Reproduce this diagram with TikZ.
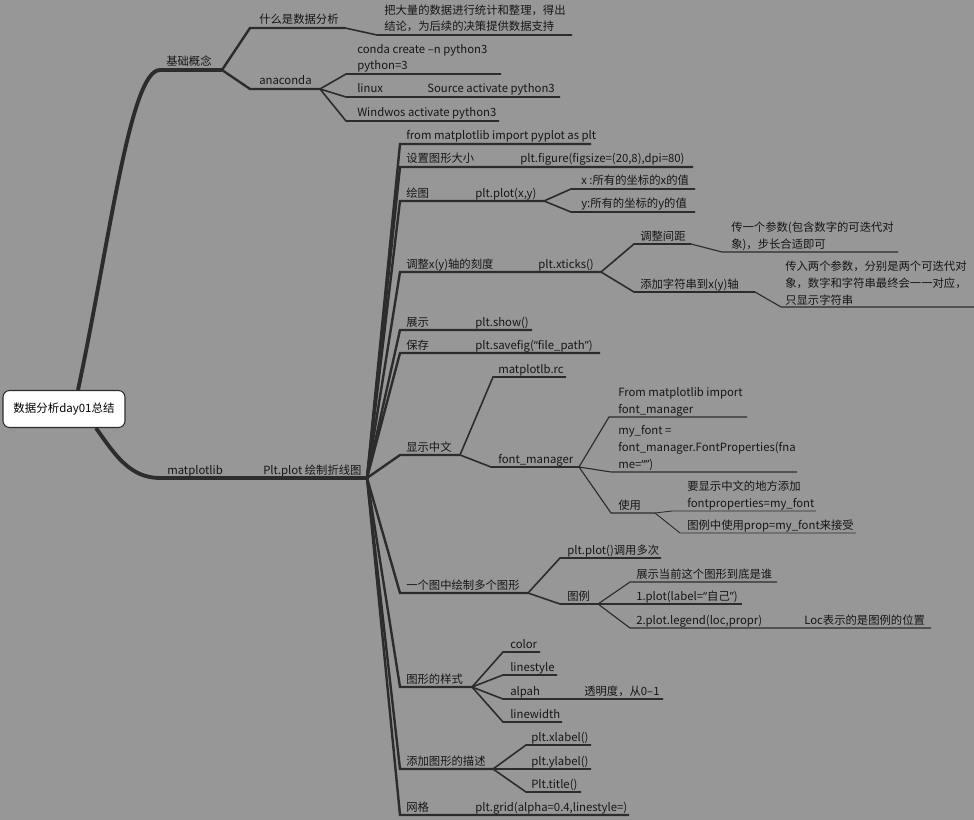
\documentclass[tikz,border=0pt]{standalone}
\usepackage{fontspec}
\setmainfont{Noto Sans CJK SC}
\newfontfamily\quotefont{Noto Sans}
\newcommand{\oq}{{\quotefont “}}
\newcommand{\cq}{{\quotefont ”}}
\usetikzlibrary{calc,positioning}
\definecolor{bggray}{RGB}{151,151,151}
\definecolor{linegray}{RGB}{44,44,44}
\definecolor{textgray}{RGB}{22,22,22}

\begin{document}
\begin{tikzpicture}[
        x=0.75pt, y=-0.75pt,
        txt/.style={anchor=base west, inner sep=0pt, align=left, text=textgray, font=\fontsize{8.5pt}{12.4pt}\selectfont},
        root/.style={rectangle, draw=linegray, line width=0.8pt, rounded corners=5pt, fill=white, minimum width=91.5pt, minimum height=27.75pt, font=\fontsize{8.6pt}{10pt}\selectfont},
        l1/.style={draw=linegray, line width=2.9pt},
        l2/.style={draw=linegray, line width=1.8pt},
        l3/.style={draw=linegray, line width=1.2pt},
        l4/.style={draw=linegray, line width=0.85pt},
        l5/.style={draw=linegray, line width=0.65pt},
        branch/.style={to path={.. controls ($(\tikztostart)!0.3!(\tikztotarget)$) and ($(\tikztostart)!0.5!(\tikztotarget)$ |- \tikztotarget) .. (\tikztotarget)}},
      ]
      \fill [bggray] (0,0) rectangle (974,820);
      \useasboundingbox (0,0) rectangle (974,820);
      % underline ends
      \coordinate (jc-s) at (160,70);     \coordinate (jc-e) at (222,70);
      \coordinate (what-s) at (250,28);   \coordinate (what-e) at (345,28);
      \coordinate (def-s) at (377,35);    \coordinate (def-e) at (572,35);
      \coordinate (ana-s) at (250,89);    \coordinate (ana-e) at (320,89);
      \coordinate (conda-s) at (346,74);  \coordinate (conda-e) at (501,74);
      \coordinate (linux-s) at (346,97);  \coordinate (linux-e) at (560,97);
      \coordinate (win-s) at (346,121);   \coordinate (win-e) at (499,121);
      \coordinate (mpl-s) at (160,478);   \coordinate (pp-e) at (367,478);
      \coordinate (imp-s) at (400,144);   \coordinate (imp-e) at (591,144);
      \coordinate (fig-s) at (400,167);   \coordinate (fig-e) at (693,167);
      \coordinate (plot-s) at (400,201);  \coordinate (plot-e) at (544,201);
      \coordinate (px-s) at (571,189);    \coordinate (px-e) at (695,189);
      \coordinate (py-s) at (571,212);    \coordinate (py-e) at (695,212);
      \coordinate (tick-s) at (400,272);  \coordinate (tick-e) at (601,272);
      \coordinate (gap-s) at (634,244);   \coordinate (gap-e) at (691,244);
      \coordinate (gapd-s) at (722,252);  \coordinate (gapd-e) at (898,252);
      \coordinate (str-s) at (634,292);   \coordinate (str-e) at (755,292);
      \coordinate (strd-s) at (781,307);  \coordinate (strd-e) at (974,307);
      \coordinate (show-s) at (400,330);  \coordinate (show-e) at (532,330);
      \coordinate (save-s) at (400,353);  \coordinate (save-e) at (600,353);
      \coordinate (cn-s) at (400,455);    \coordinate (cn-e) at (460,455);
      \coordinate (rc-s) at (493,377);    \coordinate (rc-e) at (566,377);
      \coordinate (fm-s) at (491,467);    \coordinate (fm-e) at (579,467);
      \coordinate (imfm-s) at (609,417);  \coordinate (imfm-e) at (747,417);
      \coordinate (myf-s) at (611,472);   \coordinate (myf-e) at (797,472);
      \coordinate (use-s) at (611,513);   \coordinate (use-e) at (655,513);
      \coordinate (usea-s) at (672,511);  \coordinate (usea-e) at (816,511);
      \coordinate (useb-s) at (680,533);  \coordinate (useb-e) at (856,533);
      \coordinate (multi-s) at (400,593); \coordinate (multi-e) at (528,593);
      \coordinate (many-s) at (560,558);  \coordinate (many-e) at (661,558);
      \coordinate (leg-s) at (560,604);   \coordinate (leg-e) at (598,604);
      \coordinate (lega-s) at (630,582);  \coordinate (lega-e) at (777,582);
      \coordinate (legb-s) at (630,604);  \coordinate (legb-e) at (742,604);
      \coordinate (legc-s) at (630,628);  \coordinate (legc-e) at (931,628);
      \coordinate (sty-s) at (400,687);   \coordinate (sty-e) at (472,687);
      \coordinate (col-s) at (503,652);   \coordinate (col-e) at (540,652);
      \coordinate (ls-s) at (503,675);    \coordinate (ls-e) at (557,675);
      \coordinate (alp-s) at (503,699);   \coordinate (alp-e) at (663,699);
      \coordinate (lw-s) at (503,722);    \coordinate (lw-e) at (562,722);
      \coordinate (desc-s) at (400,769);  \coordinate (desc-e) at (493,769);
      \coordinate (xl-s) at (526,745);    \coordinate (xl-e) at (591,745);
      \coordinate (yl-s) at (526,769);    \coordinate (yl-e) at (591,769);
      \coordinate (tl-s) at (526,792);    \coordinate (tl-e) at (581,792);
      \coordinate (grid-s) at (400,815);  \coordinate (grid-e) at (629,815);
      % labels
      \node [root] (root) at (64,409) {数据分析day01总结};
      \node [txt] (jc) at (166,66) {基础概念};
      \node [txt] (what) at (259,24) {什么是数据分析};
      \node [txt] (def) at (384,31) {把大量的数据进行统计和整理，得出\\结论，为后续的决策提供数据支持};
      \node [txt] (ana) at (259,85) {anaconda};
      \node [txt] (conda) at (357,70) {conda create –n python3\\python=3};
      \node [txt] (linux) at (357,93) {linux};
      \node [txt] (linuxcmd) at (427,93) {Source activate python3};
      \node [txt] (win) at (357,117) {Windwos activate python3};
      \node [txt] (mpl) at (167,474) {matplotlib};
      \node [txt] (pp) at (263,474) {Plt.plot 绘制折线图};
      \node [txt] (imp) at (406,140) {from matplotlib import pyplot as plt};
      \node [txt] (fig) at (406,163) {设置图形大小};
      \node [txt] (figcmd) at (520,163) {plt.figure(figsize=(20,8),dpi=80)};
      \node [txt] (plot) at (406,197) {绘图};
      \node [txt] (plotcmd) at (475,197) {plt.plot(x,y)};
      \node [txt] (px) at (581,185) {x :所有的坐标的x的值};
      \node [txt] (py) at (581,208) {y:所有的坐标的y的值};
      \node [txt] (tick) at (406,268) {调整x(y)轴的刻度};
      \node [txt] (tickcmd) at (538,268) {plt.xticks()};
      \node [txt] (gap) at (640,240) {调整间距};
      \node [txt] (gapd) at (731,248) {传一个参数(包含数字的可迭代对\\象)，步长合适即可};
      \node [txt] (str) at (640,288) {添加字符串到x(y)轴};
      \node [txt] (strd) at (785,304) {传入两个参数，分别是两个可迭代对\\象，数字和字符串最终会一一对应，\\只显示字符串};
      \node [txt] (show) at (406,326) {展示};
      \node [txt] (showcmd) at (475,326) {plt.show()};
      \node [txt] (save) at (406,349) {保存};
      \node [txt] (savecmd) at (475,349) {plt.savefig(\oq file\_path\cq)};
      \node [txt] (cn) at (406,451) {显示中文};
      \node [txt] (rc) at (498,373) {matplotlb.rc};
      \node [txt] (fm) at (498,463) {font\_manager};
      \node [txt] (imfm) at (618,413) {From matplotlib import\\font\_manager};
      \node [txt] (myf) at (618,468) {my\_font =\\font\_manager.FontProperties(fna\\me=\oq\cq)};
      \node [txt] (use) at (618,509) {使用};
      \node [txt] (usea) at (687,507) {要显示中文的地方添加\\fontproperties=my\_font};
      \node [txt] (useb) at (687,529) {图例中使用prop=my\_font来接受};
      \node [txt] (multi) at (406,589) {一个图中绘制多个图形};
      \node [txt] (many) at (567,554) {plt.plot()调用多次};
      \node [txt] (leg) at (567,600) {图例};
      \node [txt] (lega) at (636,578) {展示当前这个图形到底是谁};
      \node [txt] (legb) at (636,600) {1.plot(label=\oq 自己\cq)};
      \node [txt] (legc) at (636,624) {2.plot.legend(loc,propr)};
      \node [txt] (legcnote) at (804,624) {Loc表示的是图例的位置};
      \node [txt] (sty) at (406,683) {图形的样式};
      \node [txt] (col) at (510,648) {color};
      \node [txt] (ls) at (510,671) {linestyle};
      \node [txt] (alp) at (510,695) {alpah};
      \node [txt] (alpnote) at (584,695) {透明度，从0–1};
      \node [txt] (lw) at (510,718) {linewidth};
      \node [txt] (desc) at (406,765) {添加图形的描述};
      \node [txt] (xl) at (531,741) {plt.xlabel()};
      \node [txt] (yl) at (531,765) {plt.ylabel()};
      \node [txt] (tl) at (531,788) {Plt.title()};
      \node [txt] (grid) at (406,811) {网格};
      \node [txt] (gridcmd) at (475,811) {plt.grid(alpha=0.4,linestyle=)};
      % branches
      \draw [l1] ($(root.north)+(14,0)$) .. controls (110,240) and (130,70) .. (jc-s) -- (jc-e);
      \draw [l1] ($(root.south)+(32,0)$) .. controls (115,455) and (130,478) .. (mpl-s) -- (pp-e);
      \draw [l2] (jc-e) to [branch] (what-s) -- (what-e);
      \draw [l3] (what-e) to [branch] (def-s) -- (def-e);
      \draw [l2] (jc-e) to [branch] (ana-s) -- (ana-e);
      \draw [l3] (ana-e) to [branch] (conda-s) -- (conda-e);
      \draw [l3] (ana-e) to [branch] (linux-s) -- (linux-e);
      \draw [l3] (ana-e) to [branch] (win-s) -- (win-e);
      \draw [l2] (pp-e) to [branch] (imp-s) -- (imp-e);
      \draw [l2] (pp-e) to [branch] (fig-s) -- (fig-e);
      \draw [l2] (pp-e) to [branch] (plot-s) -- (plot-e);
      \draw [l3] (plot-e) to [branch] (px-s) -- (px-e);
      \draw [l3] (plot-e) to [branch] (py-s) -- (py-e);
      \draw [l2] (pp-e) to [branch] (tick-s) -- (tick-e);
      \draw [l3] (tick-e) to [branch] (gap-s) -- (gap-e);
      \draw [l4] (gap-e) to [branch] (gapd-s) -- (gapd-e);
      \draw [l3] (tick-e) to [branch] (str-s) -- (str-e);
      \draw [l4] (str-e) to [branch] (strd-s) -- (strd-e);
      \draw [l2] (pp-e) to [branch] (show-s) -- (show-e);
      \draw [l2] (pp-e) to [branch] (save-s) -- (save-e);
      \draw [l2] (pp-e) to [branch] (cn-s) -- (cn-e);
      \draw [l3] (cn-e) to [branch] (rc-s) -- (rc-e);
      \draw [l3] (cn-e) to [branch] (fm-s) -- (fm-e);
      \draw [l4] (fm-e) to [branch] (imfm-s) -- (imfm-e);
      \draw [l4] (fm-e) to [branch] (myf-s) -- (myf-e);
      \draw [l4] (fm-e) to [branch] (use-s) -- (use-e);
      \draw [l5] (use-e) to [branch] (usea-s) -- (usea-e);
      \draw [l5] (use-e) to [branch] (useb-s) -- (useb-e);
      \draw [l2] (pp-e) to [branch] (multi-s) -- (multi-e);
      \draw [l3] (multi-e) to [branch] (many-s) -- (many-e);
      \draw [l3] (multi-e) to [branch] (leg-s) -- (leg-e);
      \draw [l4] (leg-e) to [branch] (lega-s) -- (lega-e);
      \draw [l4] (leg-e) to [branch] (legb-s) -- (legb-e);
      \draw [l4] (leg-e) to [branch] (legc-s) -- (legc-e);
      \draw [l2] (pp-e) to [branch] (sty-s) -- (sty-e);
      \draw [l3] (sty-e) to [branch] (col-s) -- (col-e);
      \draw [l3] (sty-e) to [branch] (ls-s) -- (ls-e);
      \draw [l3] (sty-e) to [branch] (alp-s) -- (alp-e);
      \draw [l3] (sty-e) to [branch] (lw-s) -- (lw-e);
      \draw [l2] (pp-e) to [branch] (desc-s) -- (desc-e);
      \draw [l3] (desc-e) to [branch] (xl-s) -- (xl-e);
      \draw [l3] (desc-e) to [branch] (yl-s) -- (yl-e);
      \draw [l3] (desc-e) to [branch] (tl-s) -- (tl-e);
      \draw [l2] (pp-e) to [branch] (grid-s) -- (grid-e);
    \end{tikzpicture}
\end{document}
